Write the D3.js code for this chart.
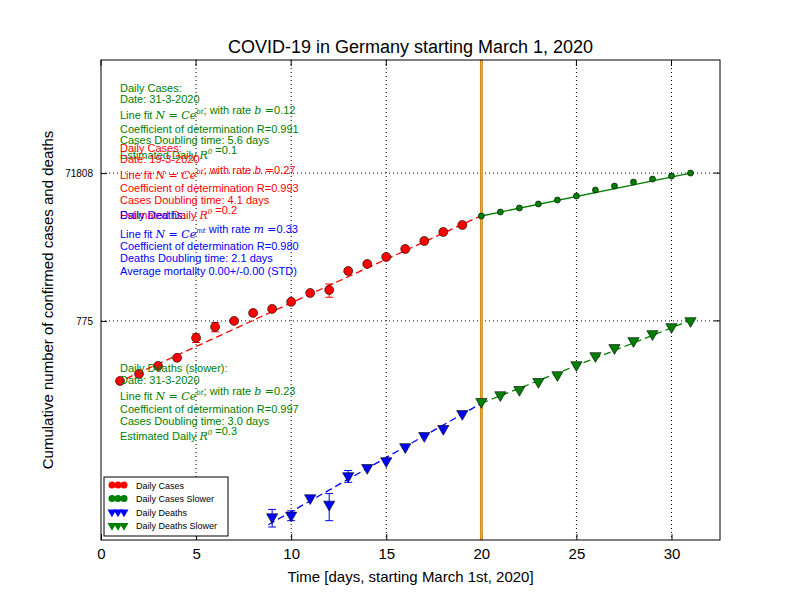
<!DOCTYPE html>
<html><head><meta charset="utf-8">
<script src="https://cdn.jsdelivr.net/npm/d3@7"></script>
<style>body{margin:0;background:#fff}</style>
</head><body>
<svg id="chart" width="800" height="600"></svg>
<script>
// Datos
const caseDays = [1,2,3,4,5,6,7,8,9,10,11,12,13,14,15,16,17,18,19];
const caseVals = [123,153,195,250,460,645,775,990,1120,1390,1825,2000,3580,4440,5500,7020,8970,11830,14660];
const caseErr  = [0,0,0,0,60,90,0,60,0,0,0,400,0,0,0,0,0,0,0];
const slowDays = [20,21,22,23,24,25,26,27,28,29,30,31];
const slowCases = [19300,21800,24700,27900,31500,35600,42800,48300,54600,59800,65600,71900];
const deathDays = [9,10,11,12,13,14,15,16,17,18,19];
const deathVals = [1.9,2.0,3.4,2.8,6.7,8.6,10.6,16.3,22.9,28.4,44.9];
const deathErr  = [0.5,0.3,0,1.1,1.2,0,0,0,0,0,0];
const slowDeaths = [65,80,94,120,148,201,265,339,420,520,645,775];
const caseFit = [[0.8,115],[20,19500]];
const slowCaseFit = [[20,19300],[31,72000]];
const deathFit = [[8.8,1.5],[20,62]];
const slowDeathFit = [[20,62],[31,790]];
const yTicks = [775, 71808];
const xTicks = [0,5,10,15,20,25,30];

const svg = d3.select("#chart");
const font = "'Liberation Sans', Arial, sans-serif";
const m = {l:101, r:720, t:60, b:540};
const x = d3.scaleLinear().domain([0,32.55]).range([m.l,m.r]);
const y = d3.scaleLog().domain([0.94,2.3e6]).range([m.b,m.t]);

// Rejilla
const grid = svg.append("g").attr("stroke","#000").attr("stroke-dasharray","1,3");
xTicks.filter(d=>d>0).forEach(d=>grid.append("line").attr("x1",x(d)).attr("x2",x(d)).attr("y1",m.t).attr("y2",m.b));
yTicks.forEach(d=>grid.append("line").attr("x1",m.l).attr("x2",m.r).attr("y1",y(d)).attr("y2",y(d)));

// Ejes
const xAxis = svg.append("g").attr("transform",`translate(0,${m.b})`)
  .call(d3.axisBottom(x).tickValues(xTicks).tickSize(-6).tickPadding(8));
const yAxis = svg.append("g").attr("transform",`translate(${m.l},0)`)
  .call(d3.axisLeft(y).tickValues(yTicks).tickFormat(d3.format("d")).tickSize(-6).tickPadding(8));
[xAxis,yAxis].forEach(a=>{a.select(".domain").remove();a.selectAll("text").attr("font-family",font);});
xAxis.selectAll("text").attr("font-size",15);
yAxis.selectAll("text").attr("font-size",10);
xTicks.forEach(d=>svg.append("line").attr("x1",x(d)).attr("x2",x(d)).attr("y1",m.t).attr("y2",m.t+6).attr("stroke","#000"));
yTicks.forEach(d=>svg.append("line").attr("x1",m.r).attr("x2",m.r-6).attr("y1",y(d)).attr("y2",y(d)).attr("stroke","#000"));

// Línea vertical día 20
svg.append("rect").attr("x",x(20)-1.2).attr("y",m.t).attr("width",2.4).attr("height",m.b-m.t)
  .attr("fill","orange").attr("stroke","#8a5a00").attr("stroke-width",0.4);

// Ajustes
const line = d3.line().x(d=>x(d[0])).y(d=>y(d[1]));
function fit(data,color,dash){
  svg.append("path").attr("d",line(data)).attr("fill","none").attr("stroke",color)
    .attr("stroke-width",1.3).attr("stroke-dasharray",dash||null);
}
fit(caseFit,"red","7,4");
fit(slowCaseFit,"green");
fit(deathFit,"blue","7,4");
fit(slowDeathFit,"green","7,4");

// Barras de error
function errs(days,vals,err,color){
  days.forEach((d,i)=>{ if(!err[i]) return;
    const y1=y(vals[i]+err[i]), y0=y(Math.max(vals[i]-err[i],0.95));
    const g=svg.append("g").attr("stroke",color).attr("stroke-width",1);
    g.append("line").attr("x1",x(d)).attr("x2",x(d)).attr("y1",y0).attr("y2",y1);
    g.append("line").attr("x1",x(d)-4).attr("x2",x(d)+4).attr("y1",y0).attr("y2",y0);
    g.append("line").attr("x1",x(d)-4).attr("x2",x(d)+4).attr("y1",y1).attr("y2",y1);
  });
}
errs(caseDays,caseVals,caseErr,"red");
errs(deathDays,deathVals,deathErr,"blue");

// Marcadores
const tri = d3.symbol().type(d3.symbolTriangle).size(55);
function circles(days,vals,color,r){
  svg.append("g").selectAll("circle").data(days).join("circle")
    .attr("cx",d=>x(d)).attr("cy",(d,i)=>y(vals[i])).attr("r",r)
    .attr("fill",color).attr("stroke","#000").attr("stroke-width",0.6);
}
function tris(days,vals,color){
  svg.append("g").selectAll("path").data(days).join("path").attr("d",tri)
    .attr("transform",(d,i)=>`translate(${x(d)},${y(vals[i])}) rotate(180)`)
    .attr("fill",color).attr("stroke","#000").attr("stroke-width",0.6);
}
circles(caseDays,caseVals,"red",4.5);
circles(slowDays,slowCases,"green",3);
tris(deathDays,deathVals,"blue");
tris(slowDays,slowDeaths,"green");

// Marco
svg.append("rect").attr("x",m.l).attr("y",m.t).attr("width",m.r-m.l).attr("height",m.b-m.t)
  .attr("fill","none").attr("stroke","#000");

// Títulos
svg.append("text").attr("x",(m.l+m.r)/2).attr("y",53).attr("text-anchor","middle")
  .attr("font-family",font).attr("font-size",18).text("COVID-19 in Germany starting March 1, 2020");
svg.append("text").attr("x",(m.l+m.r)/2).attr("y",582).attr("text-anchor","middle")
  .attr("font-family",font).attr("font-size",15).text("Time [days, starting March 1st, 2020]");
svg.append("text").attr("transform",`translate(53,${(m.t+m.b)/2}) rotate(-90)`).attr("text-anchor","middle")
  .attr("font-family",font).attr("font-size",15).text("Cumulative number of confirmed cases and deaths");

// Anotaciones
function block(lines,color){
  lines.forEach(([yy,parts])=>{
    const t=svg.append("text").attr("x",120).attr("y",yy).attr("fill",color)
      .attr("font-family",font).attr("font-size",11);
    parts.forEach(p=>{
      if(typeof p==="string") t.append("tspan").text(p);
      else if(p.sup){
        t.append("tspan").attr("font-family","'DejaVu Serif',serif").attr("font-style","italic")
          .attr("font-size",7).attr("dy",-5).text(p.sup);
        t.append("tspan").attr("dy",5).text("");
      }
      else t.append("tspan").attr("font-family","'DejaVu Serif',serif").attr("font-style","italic").text(p.m);
    });
  });
}
const fitLine=(exp,sym,val)=>["Line fit ",{m:"N = Ce"},{sup:exp},"; with rate ",{m:sym+" ="},val];
const fitLine2=(exp,sym,val)=>["Line fit ",{m:"N = Ce"},{sup:exp}," with rate ",{m:sym+" ="},val];
block([
  [92,["Daily Cases:"]],[103,["Date: 31-3-2020"]],[119,fitLine("bt","b","0.12")],
  [133,["Coefficient of determination R=0.991"]],[144,["Cases Doubling time: 5.6 days"]],
  [159,["Estimated Daily ",{m:"R"},{sup:"0"}," =0.1"]]
],"green");
block([
  [152,["Daily Cases:"]],[163,["Date: 19-3-2020"]],[179,fitLine("bt","b","0.27")],
  [192,["Coefficient of determination R=0.993"]],[204,["Cases Doubling time: 4.1 days"]],
  [219,["Estimated Daily ",{m:"R"},{sup:"0"}," =0.2"]]
],"red");
block([
  [219,["Daily Deaths:"]],[238,fitLine2("mt","m","0.33")],
  [250,["Coefficient of determination R=0.980"]],[262,["Deaths Doubling time: 2.1 days"]],
  [275,["Average mortality 0.00+/-0.00 (STD)"]]
],"blue");
block([
  [372,["Daily Deaths (slower):"]],[384,["Date: 31-3-2020"]],[400,fitLine("bt","b","0.23")],
  [413,["Coefficient of determination R=0.997"]],[425,["Cases Doubling time: 3.0 days"]],
  [440,["Estimated Daily ",{m:"R"},{sup:"0"}," =0.3"]]
],"green");

// Leyenda
const leg = svg.append("g").attr("transform","translate(104,477)");
leg.append("rect").attr("width",124).attr("height",59).attr("fill","#fff").attr("stroke","#000");
const legItems = [["Daily Cases","red","c"],["Daily Cases Slower","green","c"],["Daily Deaths","blue","t"],["Daily Deaths Slower","green","t"]];
legItems.forEach(([lab,col,s],i)=>{
  const yy=8+i*13.5;
  [8,14,20].forEach(xx=>{
    if(s==="c") leg.append("circle").attr("cx",xx).attr("cy",yy).attr("r",3.5).attr("fill",col);
    else leg.append("path").attr("d",d3.symbol().type(d3.symbolTriangle).size(35))
      .attr("transform",`translate(${xx},${yy}) rotate(180)`).attr("fill",col);
  });
  leg.append("text").attr("x",32).attr("y",yy+3.5).attr("font-family",font).attr("font-size",9).text(lab);
});
</script>
</body></html>
